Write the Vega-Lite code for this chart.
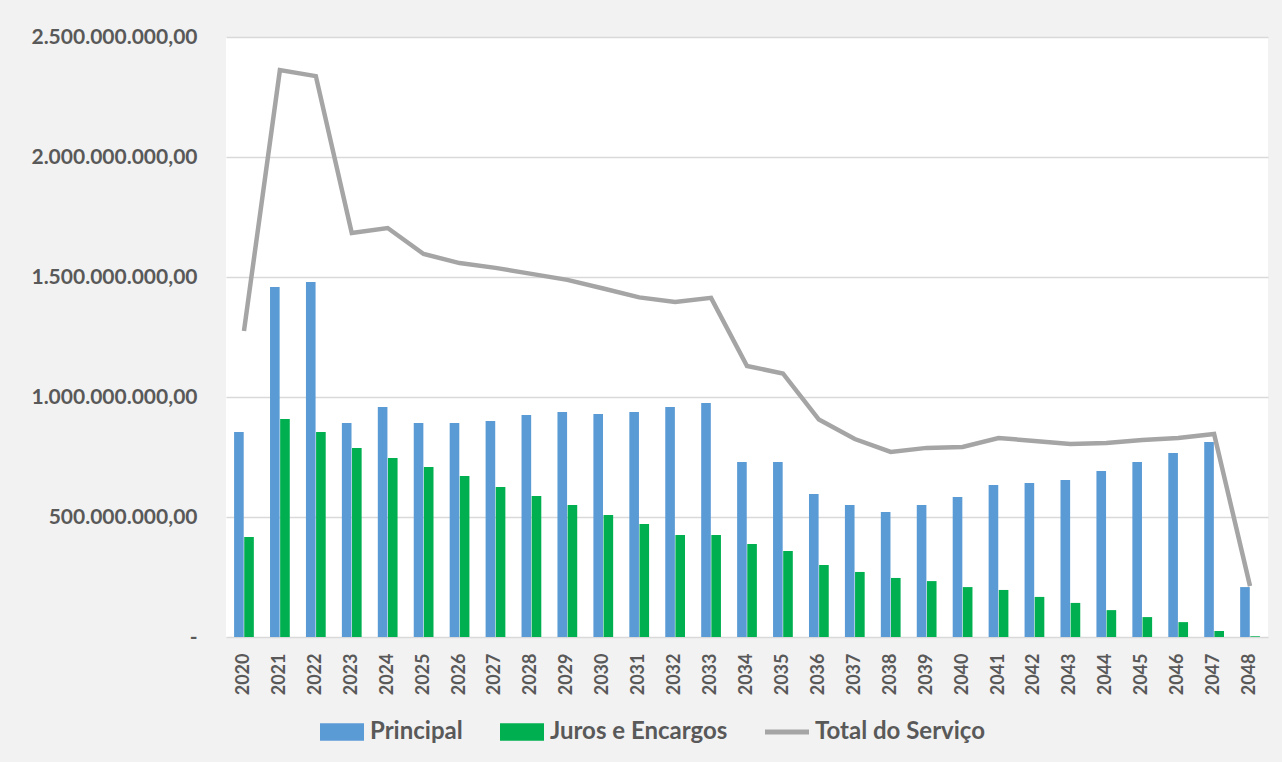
{
  "$schema": "https://vega.github.io/schema/vega-lite/v6.json",
  "width": 1042,
  "height": 600,
  "autosize": {"type": "none"},
  "padding": {"left": 226, "top": 37, "right": 14, "bottom": 125},
  "background": "#f2f2f2",
  "config": {
    "view": {"fill": "white", "stroke": null},
    "font": "Lato",
    "locale": {"number": {"decimal": ",", "thousands": ".", "grouping": [3], "currency": ["R$ ", ""]}}
  },
  "data": {
    "values": [
      {"year": "2020", "Principal": 854000000, "Juros e Encargos": 417000000, "Total do Serviço": 1275000000},
      {"year": "2021", "Principal": 1458000000, "Juros e Encargos": 908000000, "Total do Serviço": 2362000000},
      {"year": "2022", "Principal": 1479000000, "Juros e Encargos": 854000000, "Total do Serviço": 2337000000},
      {"year": "2023", "Principal": 892000000, "Juros e Encargos": 788000000, "Total do Serviço": 1683000000},
      {"year": "2024", "Principal": 958000000, "Juros e Encargos": 746000000, "Total do Serviço": 1704000000},
      {"year": "2025", "Principal": 892000000, "Juros e Encargos": 708000000, "Total do Serviço": 1596000000},
      {"year": "2026", "Principal": 892000000, "Juros e Encargos": 671000000, "Total do Serviço": 1558000000},
      {"year": "2027", "Principal": 900000000, "Juros e Encargos": 625000000, "Total do Serviço": 1538000000},
      {"year": "2028", "Principal": 925000000, "Juros e Encargos": 588000000, "Total do Serviço": 1513000000},
      {"year": "2029", "Principal": 938000000, "Juros e Encargos": 550000000, "Total do Serviço": 1488000000},
      {"year": "2030", "Principal": 929000000, "Juros e Encargos": 508000000, "Total do Serviço": 1452000000},
      {"year": "2031", "Principal": 938000000, "Juros e Encargos": 471000000, "Total do Serviço": 1415000000},
      {"year": "2032", "Principal": 958000000, "Juros e Encargos": 425000000, "Total do Serviço": 1396000000},
      {"year": "2033", "Principal": 975000000, "Juros e Encargos": 425000000, "Total do Serviço": 1413000000},
      {"year": "2034", "Principal": 729000000, "Juros e Encargos": 388000000, "Total do Serviço": 1129000000},
      {"year": "2035", "Principal": 729000000, "Juros e Encargos": 358000000, "Total do Serviço": 1098000000},
      {"year": "2036", "Principal": 596000000, "Juros e Encargos": 300000000, "Total do Serviço": 906000000},
      {"year": "2037", "Principal": 550000000, "Juros e Encargos": 271000000, "Total do Serviço": 825000000},
      {"year": "2038", "Principal": 521000000, "Juros e Encargos": 246000000, "Total do Serviço": 771000000},
      {"year": "2039", "Principal": 550000000, "Juros e Encargos": 233000000, "Total do Serviço": 788000000},
      {"year": "2040", "Principal": 583000000, "Juros e Encargos": 208000000, "Total do Serviço": 792000000},
      {"year": "2041", "Principal": 633000000, "Juros e Encargos": 196000000, "Total do Serviço": 829000000},
      {"year": "2042", "Principal": 642000000, "Juros e Encargos": 167000000, "Total do Serviço": 817000000},
      {"year": "2043", "Principal": 654000000, "Juros e Encargos": 142000000, "Total do Serviço": 804000000},
      {"year": "2044", "Principal": 692000000, "Juros e Encargos": 112000000, "Total do Serviço": 808000000},
      {"year": "2045", "Principal": 729000000, "Juros e Encargos": 83000000, "Total do Serviço": 821000000},
      {"year": "2046", "Principal": 767000000, "Juros e Encargos": 62000000, "Total do Serviço": 829000000},
      {"year": "2047", "Principal": 813000000, "Juros e Encargos": 25000000, "Total do Serviço": 846000000},
      {"year": "2048", "Principal": 208000000, "Juros e Encargos": 3000000, "Total do Serviço": 212000000}
    ]
  },
  "transform": [
    {"fold": ["Principal", "Juros e Encargos", "Total do Serviço"], "as": ["series", "value"]}
  ],
  "encoding": {
    "x": {
      "field": "year",
      "type": "ordinal",
      "title": null,
      "scale": {"paddingInner": 0.45, "paddingOuter": 0.225},
      "axis": {
        "domain": false,
        "ticks": false,
        "tickSize": 0,
        "labelAngle": 270,
        "labelAlign": "right",
        "labelBaseline": "middle",
        "labelPadding": 16,
        "labelFont": "Lato",
        "labelFontSize": 18,
        "labelFontWeight": "bold",
        "labelColor": "#595959",
        "grid": false
      }
    },
    "y": {
      "field": "value",
      "type": "quantitative",
      "title": null,
      "scale": {"domain": [0, 2500000000], "nice": false},
      "axis": {
        "values": [0, 500000000, 1000000000, 1500000000, 2000000000, 2500000000],
        "format": ",.2f",
        "labelExpr": "datum.value == 0 ? '-\u00a0\u00a0\u00a0' : datum.label",
        "domain": false,
        "ticks": false,
        "tickSize": 0,
        "labelPadding": 29,
        "labelFont": "Lato",
        "labelFontSize": 21,
        "labelFontWeight": "bold",
        "labelColor": "#595959",
        "grid": true,
        "gridColor": "#d9d9d9",
        "gridWidth": 1.5
      }
    },
    "color": {
      "field": "series",
      "type": "nominal",
      "scale": {
        "domain": ["Principal", "Juros e Encargos", "Total do Serviço"],
        "range": ["#5b9bd5", "#00b050", "#a5a5a5"]
      },
      "legend": {
        "title": null,
        "orient": "none",
        "legendX": 94,
        "legendY": 673,
        "direction": "horizontal",
        "symbolSize": 1936,
        "symbolType": "M-1,-0.4H1V0.4H-1Z",
        "labelOffset": 6,
        "columnPadding": 37,
        "labelFont": "Lato",
        "labelFontSize": 24,
        "labelFontWeight": "bold",
        "labelColor": "#595959",
        "labelLimit": 400,
        "encode": {
          "symbols": {
            "update": {
              "shape": {"signal": "datum.value == 'Total do Serviço' ? 'M-1,-0.11H1V0.11H-1Z' : 'M-1,-0.4H1V0.4H-1Z'"},
              "fill": {"signal": "datum.value == 'Principal' ? '#5b9bd5' : datum.value == 'Juros e Encargos' ? '#00b050' : '#a5a5a5'"},
              "fillOpacity": {"value": 1},
              "opacity": {"value": 1},
              "strokeWidth": {"value": 0}
            }
          }
        }
      }
    }
  },
  "layer": [
    {
      "transform": [{"filter": "datum.series != 'Total do Serviço'"}],
      "mark": {"type": "bar"},
      "encoding": {
        "xOffset": {
          "field": "series",
          "type": "nominal",
          "sort": ["Principal", "Juros e Encargos"],
          "scale": {"paddingInner": 0.05}
        }
      }
    },
    {
      "transform": [{"filter": "datum.series == 'Total do Serviço'"}],
      "mark": {"type": "line", "strokeWidth": 4.5, "strokeJoin": "miter"},
      "encoding": {}
    }
  ]
}
